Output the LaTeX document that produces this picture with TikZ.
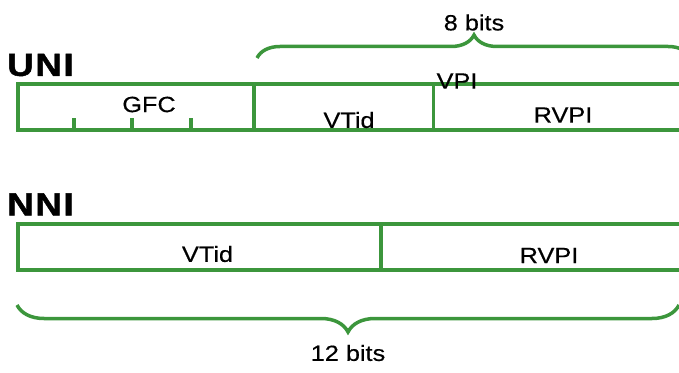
\documentclass[tikz,border=0pt]{standalone}
\usepackage{fontspec}
\setmainfont{Liberation Sans}[FakeStretch=1.15]
\newfontfamily\tagfont{Liberation Sans}[FakeStretch=1.15, FakeBold=0.4]
\newfontfamily\headfont{Liberation Sans Bold}[FakeStretch=1.15, FakeBold=1.5, LetterSpace=5]
\usetikzlibrary{decorations.pathreplacing}
\definecolor{fieldgreen}{RGB}{60,150,60}

\tikzset{
  field/.style={draw=fieldgreen, line width=3.5pt, minimum height=46pt, inner sep=0pt, anchor=south west},
  tick/.style={draw=fieldgreen, line width=3.5pt},
  tag/.style={font=\tagfont\fontsize{22}{22}\selectfont, inner sep=0pt},
  head/.style={font=\headfont\fontsize{32}{32}\selectfont, anchor=west, inner sep=0pt},
  bitbrace/.style={draw=fieldgreen, line width=3.5pt, decorate, decoration={brace, amplitude=#1}}
}

\begin{document}
\begin{tikzpicture}[x=1pt,y=1pt]
\useasboundingbox (0,0) rectangle (679,372);
\clip (0,0) rectangle (679,372);

% UNI header
\node[head] (uni) at (7,307) {UNI};
\node[field, minimum width=236pt] (gfc) at (16,240) {};
\node[field, minimum width=179.5pt] (vtid) at (252,240) {};
\node[field, minimum width=300pt] (rvpi) at (431.5,240) {};
\foreach \x in {74,132,191}{\draw[tick] (\x,240) -- +(0,14);
}
\node[tag] (gfctag) at (149,267.5) {GFC};
\node[tag] (vtidtag) at (349,252) {VTid};
\node[tag] (vpitag) at (457,291) {VPI};
\node[tag] (rvpitag) at (563,257) {RVPI};

\coordinate (vpil) at (257,314);
\coordinate (vpir) at (691,314);
\draw[bitbrace=23pt] (vpil) -- (vpir);
\node[tag] (eightbits) at (474,349.5) {8 bits};

% NNI header
\node[head] (nni) at (7,167.5) {NNI};
\node[field, minimum width=363pt] (nvtid) at (16,100) {};
\node[field, minimum width=320pt] (nrvpi) at (379,100) {};
\node[tag] (nvtidtag) at (207.5,118) {VTid};
\node[tag] (nrvpitag) at (549,116.5) {RVPI};

\coordinate (nnil) at (17,67);
\coordinate (nnir) at (679,67);
\draw[bitbrace=27pt] (nnir) -- (nnil);
\node[tag] (twelvebits) at (348,19) {12 bits};

\end{tikzpicture}
\end{document}
